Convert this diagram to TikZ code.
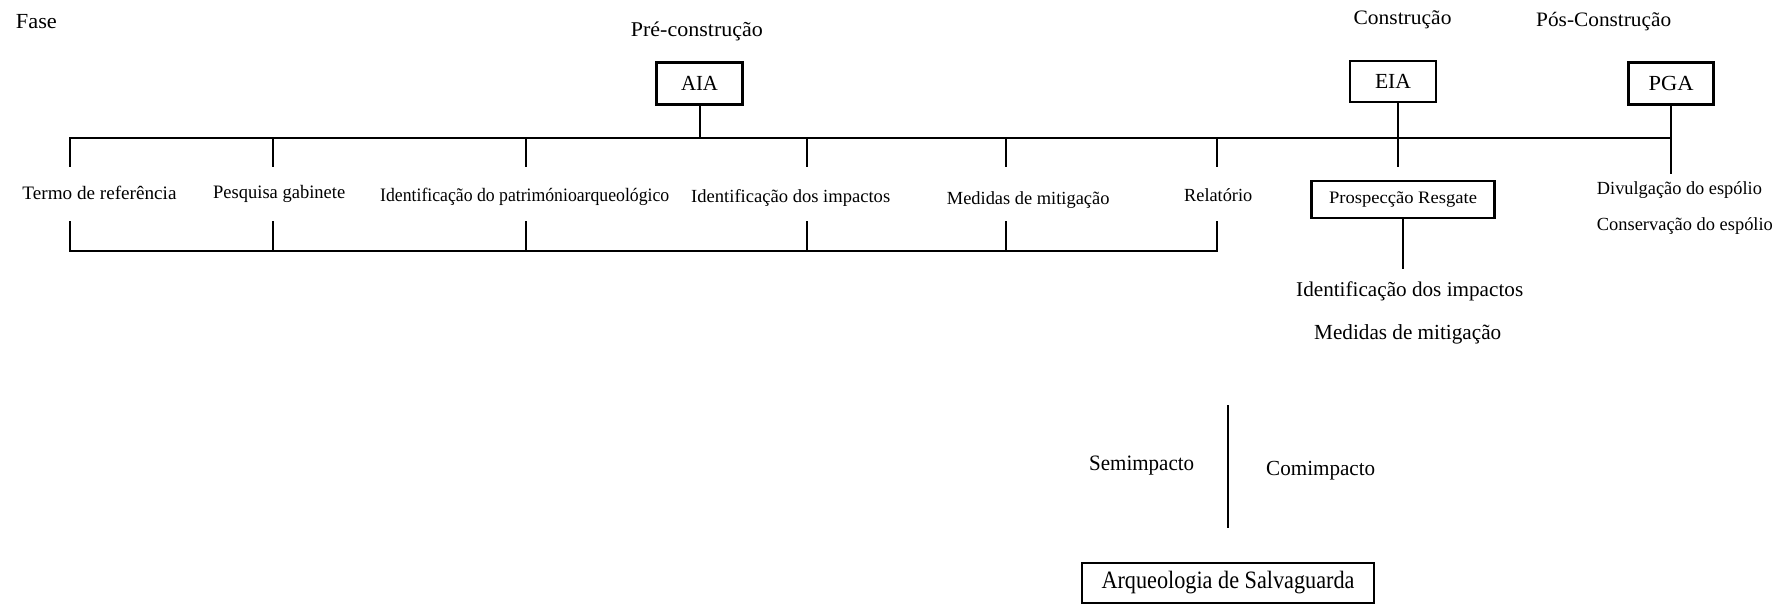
\documentclass[tikz,border=0pt]{standalone}
\usepackage{graphicx}
\usepackage{fontspec}
\setmainfont{Liberation Serif}
\newcommand{\tx}[2]{\resizebox{#1pt}{\height}{#2}}
\tikzset{
  ln/.style={line width=2pt, line cap=rect},
  lbl/.style={anchor=base west, inner sep=0pt, font=\fontsize{18.5}{22}\selectfont},
  bx/.style={draw, line width=2.5pt, inner sep=0pt, font=\fontsize{21.5}{24}\selectfont},
}
\begin{document}
\begin{tikzpicture}[x=1pt,y=-1pt]
\useasboundingbox (0,0) rectangle (1776,605);
% phase titles
\node[lbl, font=\fontsize{21.5}{24}\selectfont] (fase) at (15.7,28) {\tx{41}{Fase}};
\node[lbl, font=\fontsize{21}{24}\selectfont] (pre) at (630.7,36) {\tx{132}{Pré-construção}};
\node[lbl, font=\fontsize{20.5}{24}\selectfont] (cons) at (1353.3,24) {\tx{98}{Construção}};
\node[lbl, font=\fontsize{20.5}{24}\selectfont] (pos) at (1536,26) {\tx{135}{Pós-Construção}};
% boxes
\node[bx, minimum width=86pt, minimum height=42pt] (AIA) at (699.5,83.5) {\tx{37}{AIA}};
\node[bx, minimum width=86pt, minimum height=41pt] (EIA) at (1393,81.5) {\tx{36}{EIA}};
\node[bx, minimum width=85pt, minimum height=42pt] (PGA) at (1671,83.5) {\tx{45}{PGA}};
\node[bx, minimum width=183pt, minimum height=37pt, font=\fontsize{17.5}{22}\selectfont] (PR) at (1403,199.5) {\tx{148}{Prospecção Resgate}};
\node[bx, minimum width=292pt, minimum height=40pt, font=\fontsize{25}{28}\selectfont] (AS) at (1228,583) {\tx{253}{Arqueologia de Salvaguarda}};
% labels
\node[lbl, font=\fontsize{19}{22}\selectfont] (l1) at (22.3,199) {\tx{154}{Termo de referência}};
\node[lbl, font=\fontsize{19}{22}\selectfont] (l2) at (213,198) {\tx{132}{Pesquisa gabinete}};
\node[lbl, font=\fontsize{19}{22}\selectfont] (l3) at (380,201) {\tx{289}{Identificação do patrimónioarqueológico}};
\node[lbl] (l4) at (691,202) {\tx{199}{Identificação dos impactos}};
\node[lbl] (l5) at (946.7,204) {\tx{162.6}{Medidas de mitigação}};
\node[lbl] (l6) at (1184,201) {\tx{68}{Relatório}};
\node[lbl] (d1) at (1596.7,194) {\tx{165}{Divulgação do espólio}};
\node[lbl] (d2) at (1596.7,230) {\tx{176}{Conservação do espólio}};
\node[lbl, font=\fontsize{21}{24}\selectfont] (i1) at (1296,296) {\tx{227}{Identificação dos impactos}};
\node[lbl, font=\fontsize{21.5}{24}\selectfont] (m1) at (1314,339) {\tx{187}{Medidas de mitigação}};
\node[lbl, font=\fontsize{22}{24}\selectfont] (sem) at (1089,470) {\tx{105}{Semimpacto}};
\node[lbl, font=\fontsize{21.5}{24}\selectfont] (com) at (1266,475) {\tx{109}{Comimpacto}};
% main lines
\coordinate (tL) at (70,138);
\coordinate (tR) at (1671,138);
\coordinate (bL) at (70,251);
\coordinate (bR) at (1217,251);
\draw[ln] (tL) -- (tR);
\draw[ln] (bL) -- (bR);
\foreach \x in {70,272.5,526,807,1006,1217}{
  \coordinate (t) at (\x,138);
  \coordinate (u) at (\x,166);
  \coordinate (v) at (\x,222);
  \coordinate (b) at (\x,251);
  \draw[ln] (t) -- (u);
  \draw[ln] (v) -- (b);
}
% stems
\coordinate (aT) at (700,138);
\draw[ln] ([xshift=0.5pt]AIA.south) -- (aT);
\coordinate (eB) at (1398.3,166);
\draw[ln] ([xshift=5.3pt]EIA.south) -- (eB);
\coordinate (pB) at (1671,173);
\draw[ln] (PGA.south) -- (pB);
\coordinate (prB) at (1403,268);
\draw[ln] (PR.south) -- (prB);
\coordinate (vT) at (1228,406);
\coordinate (vB) at (1228,527);
\draw[ln] (vT) -- (vB);
\end{tikzpicture}
\end{document}
